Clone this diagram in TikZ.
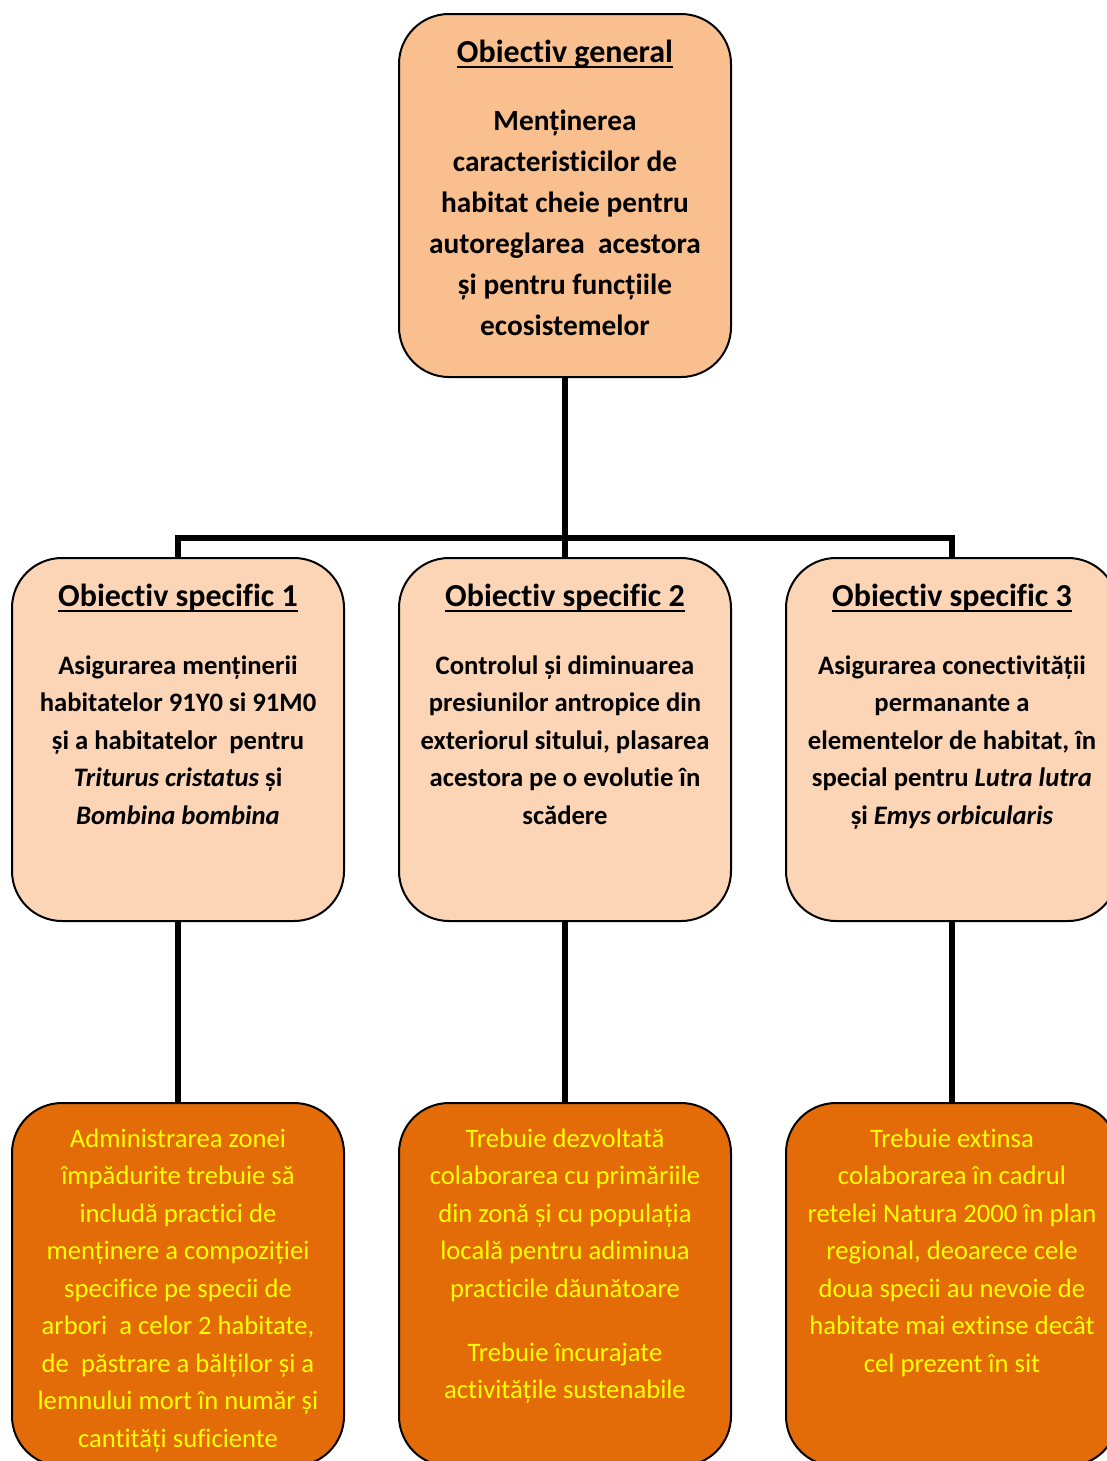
\documentclass[tikz,border=0pt]{standalone}
\usepackage{fontspec}
\setmainfont{Carlito}[Ligatures=NoCommon]
\usetikzlibrary{backgrounds}

\definecolor{gencolor}{HTML}{F9BF8F}
\definecolor{speccolor}{HTML}{FBD5B5}
\definecolor{actcolor}{HTML}{E36C09}
\definecolor{acttext}{HTML}{FFFF00}

\newcommand\subliniat[1]{\setbox0\hbox{#1}\rlap{\rule[-4.5pt]{\wd0}{1.5pt}}\box0}
\newcommand\continut[1]{\parbox[c][272.25pt][t]{245pt}{\centering #1}}

\begin{document}
\begin{tikzpicture}[x=0.75pt, y=-0.75pt,
    cutie/.style={draw, line width=1.5pt, rounded corners=37.5pt,
        inner sep=0pt, minimum width=249pt, minimum height=272.25pt},
    genbox/.style={cutie, fill=gencolor},
    specbox/.style={cutie, fill=speccolor},
    actbox/.style={cutie, fill=actcolor, text=acttext},
    leg/.style={line width=4.2pt, line join=miter}]
    \useasboundingbox (0,0) rectangle (1107,1461);
    \node [genbox] (gen) at (565,195.5) {\continut{%
        \fontsize{24}{28}\selectfont\bfseries\rule{0pt}{36pt}\subliniat{Obiectiv general}\par
        \vspace{20.25pt}\fontsize{22}{30.75}\selectfont
        Menținerea\\ caracteristicilor de\\ habitat cheie pentru\\
        autoreglarea\ \ acestora\\ și pentru funcțiile\\ ecosistemelor\par}};
    \node [specbox] (s1) at (178,739.5) {\continut{%
        \fontsize{24}{28}\selectfont\bfseries\rule{0pt}{36pt}\subliniat{Obiectiv specific 1}\par
        \vspace{22.875pt}\fontsize{20}{28.125}\selectfont
        Asigurarea menținerii\\ habitatelor 91Y0 si 91M0\\ și a habitatelor\ \ pentru\\
        \textit{Triturus cristatus} și\\ \textit{Bombina bombina}\par}};
    \node [specbox] (s2) at (565,739.5) {\continut{%
        \fontsize{24}{28}\selectfont\bfseries\rule{0pt}{36pt}\subliniat{Obiectiv specific 2}\par
        \vspace{22.875pt}\fontsize{20}{28.125}\selectfont
        Controlul și diminuarea\\ presiunilor antropice din\\ exteriorul sitului, plasarea\\
        acestora pe o evolutie în\\ scădere\par}};
    \node [specbox] (s3) at (952,739.5) {\continut{%
        \fontsize{24}{28}\selectfont\bfseries\rule{0pt}{36pt}\subliniat{Obiectiv specific 3}\par
        \vspace{22.875pt}\fontsize{20}{28.125}\selectfont
        Asigurarea conectivității\\ permanante a\\ elementelor de habitat, în\\
        special pentru \textit{Lutra lutra}\\ și \textit{Emys orbicularis}\par}};
    \node [actbox] (a1) at (178,1284.5) {\continut{%
        \fontsize{20}{28.125}\selectfont\rule{0pt}{33pt}Administrarea zonei\\
        împădurite trebuie să\\ includă practici de\\ menținere a compoziției\\
        specifice pe specii de\\ arbori\ \ a celor 2 habitate,\\ de\ \ păstrare a bălților și a\\
        lemnului mort în număr și\\ cantități suficiente\par}};
    \node [actbox] (a2) at (565,1284.5) {\continut{%
        \fontsize{20}{28.125}\selectfont\rule{0pt}{33pt}Trebuie dezvoltată\\
        colaborarea cu primăriile\\ din zonă și cu populația\\ locală pentru adiminua\\
        practicile dăunătoare\par
        \vspace{20pt}Trebuie încurajate\\ activitățile sustenabile\par}};
    \node [actbox] (a3) at (952,1284.5) {\continut{%
        \fontsize{20}{28.125}\selectfont\rule{0pt}{33pt}Trebuie extinsa\\
        colaborarea în cadrul\\ retelei Natura 2000 în plan\\ regional, deoarece cele\\
        doua specii au nevoie de\\ habitate mai extinse decât\\ cel prezent în sit\par}};
    \coordinate (bar) at (565,538);
    \begin{scope}[on background layer]
        \draw [leg] (gen.south) -- (bar);
        \draw [leg] (s1.north) |- (bar) -| (s3.north);
        \draw [leg] (bar) -- (s2.north);
        \foreach \i in {1,2,3}
            \draw [leg] (s\i.south) -- (a\i.north);
    \end{scope}
\end{tikzpicture}
\end{document}
